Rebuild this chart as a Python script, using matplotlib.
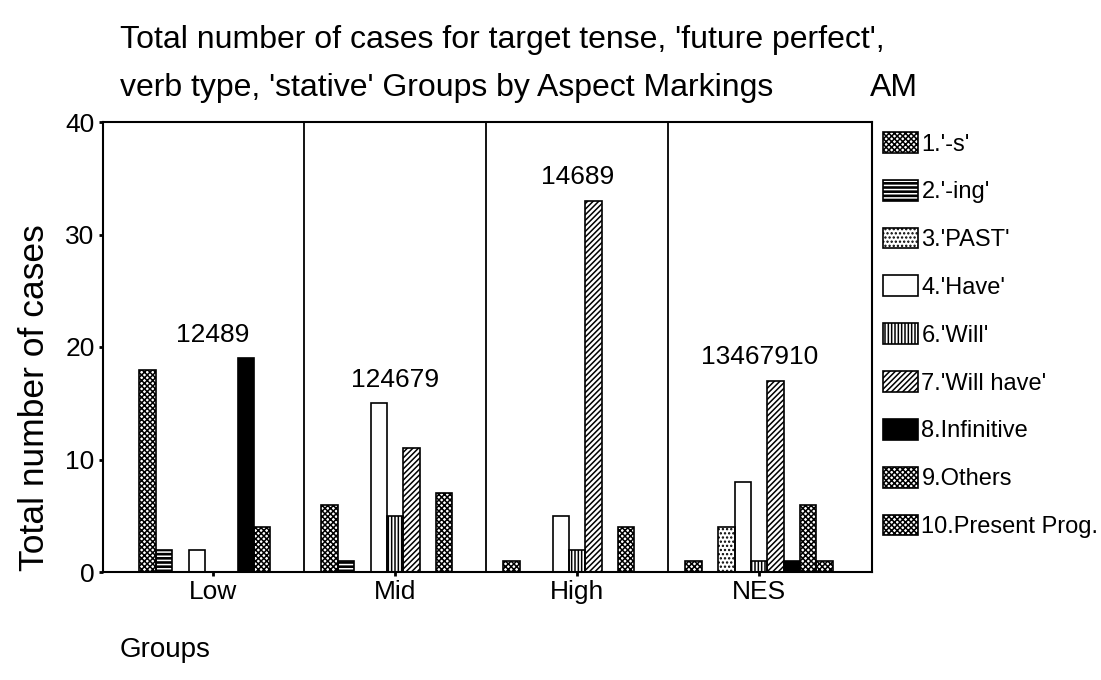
import numpy as np
from matplotlib import pyplot as plt
from matplotlib.patches import Patch

# Data
groups = ['Low', 'Mid', 'High', 'NES']
am_labels = ["1.'-s'", "2.'-ing'", "3.'PAST'", "4.'Have'", "6.'Will'",
             "7.'Will have'", "8.Infinitive", "9.Others", "10.Present Prog."]
s_s = [18, 6, 1, 1]
s_ing = [2, 1, 0, 0]
s_past = [0, 0, 0, 4]
s_have = [2, 15, 5, 8]
s_will = [0, 5, 2, 1]
s_willhave = [0, 11, 33, 17]
s_inf = [19, 0, 0, 1]
s_others = [4, 7, 4, 6]
s_presprog = [0, 0, 0, 1]
annotations = ['12489', '124679', '14689', '13467910']

series = [s_s, s_ing, s_past, s_have, s_will, s_willhave, s_inf, s_others, s_presprog]

# (face colour, hatch colour, hatch)
styles = [
    ('white', 'black', 'xxxxxx'),
    ('black', 'white', '----'),
    ('white', 'black', '....'),
    ('white', 'black', None),
    ('white', 'black', '|||||'),
    ('white', 'black', '//////'),
    ('black', 'black', None),
    ('white', 'black', 'xxxxxx'),
    ('white', 'black', 'xxxxxx'),
]

plt.rcParams['font.family'] = ['Liberation Sans', 'DejaVu Sans']
plt.rcParams['hatch.linewidth'] = 1.1

fig = plt.figure(figsize=(11.01, 6.8), dpi=100)
ax = fig.add_axes([103 / 1101, 108 / 680, 769 / 1101, 450 / 680])

x = np.arange(len(groups))
w = 0.090
for k, vals in enumerate(series):
    fc, hc, hatch = styles[k]
    pos = x + (k - 4) * w
    ax.bar(pos, vals, width=w, color=fc, edgecolor=hc, linewidth=0, hatch=hatch, zorder=2)
    ax.bar(pos, vals, width=w, facecolor='none', edgecolor='black', linewidth=1.2, zorder=3)

# group separators
for sep in x[:-1] + 0.5:
    ax.axvline(sep, color='black', linewidth=1.3, zorder=4)

# category-number labels above each group
totals = np.max(np.array(series), axis=0)
for i, txt in enumerate(annotations):
    ax.text(x[i], totals[i] + 2.1, txt, ha='center', va='center', fontsize=19)

ax.set_xlim(-0.605, 3.62)
ax.set_ylim(0, 40)
ax.set_xticks(x)
ax.set_xticklabels(groups)
ax.set_yticks([0, 10, 20, 30, 40])
ax.tick_params(axis='both', direction='out', length=3, width=2, labelsize=19, pad=3)
for sp in ax.spines.values():
    sp.set_linewidth(1.5)

ax.set_ylabel('Total number of cases', fontsize=25.5)
ax.yaxis.set_label_coords(-0.067, 0.387)

fig.text(120 / 1101, 1 - 40 / 680, "Total number of cases for target tense, 'future perfect',",
         ha='left', va='center', fontsize=23)
fig.text(120 / 1101, 1 - 88 / 680, "verb type, 'stative' Groups by Aspect Markings",
         ha='left', va='center', fontsize=23)
fig.text(870 / 1101, 1 - 88 / 680, 'AM', ha='left', va='center', fontsize=23)
fig.text(120 / 1101, 1 - 650 / 680, 'Groups', ha='left', va='center', fontsize=20)

handles = []
for fc, hc, hatch in styles:
    handles.append((Patch(facecolor=fc, edgecolor=hc, linewidth=0, hatch=hatch),
                    Patch(facecolor='none', edgecolor='black', linewidth=1.2)))
ax.legend(handles, am_labels, loc='upper left', bbox_to_anchor=(883 / 1101, 1 - 132 / 680),
          bbox_transform=fig.transFigure, frameon=False, borderpad=0, borderaxespad=0,
          fontsize=17, handlelength=1.48, handleheight=0.98, labelspacing=1.03,
          handletextpad=0.15)

plt.savefig('out.png', dpi=100)
